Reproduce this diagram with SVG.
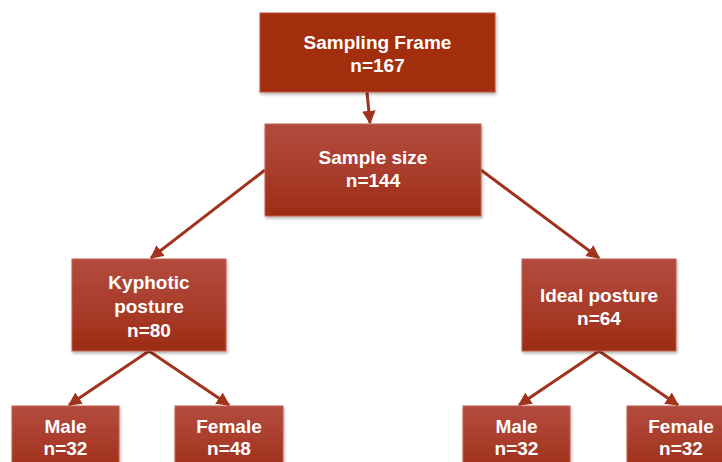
<svg xmlns="http://www.w3.org/2000/svg" width="722" height="462" viewBox="0 0 722 462">
<defs>
<linearGradient id="g" x1="0" y1="0" x2="0" y2="1">
<stop offset="0" stop-color="#B34B3F"/>
<stop offset="0.5" stop-color="#A93D2C"/>
<stop offset="1" stop-color="#9C2C14"/>
</linearGradient>
<marker id="ah" viewBox="0 0 10 10" refX="9" refY="5" markerWidth="4.5" markerHeight="4.5" orient="auto" markerUnits="strokeWidth">
<path d="M0,0 L10,5 L0,10 Z" fill="#A1331D"/>
</marker>
<filter id="sh" x="-10%" y="-10%" width="120%" height="130%">
<feDropShadow dx="1" dy="2" stdDeviation="1.5" flood-color="#000" flood-opacity="0.3"/>
</filter>
</defs>
<style>
.box{fill:url(#g);stroke:#C0604F;stroke-width:1;filter:url(#sh)}
.top{fill:#A32F10;stroke:#B8503A;stroke-width:1;filter:url(#sh)}
.t{font-family:"Liberation Sans",Arial,sans-serif;font-weight:bold;font-size:19px;fill:#FFFFFF;text-anchor:middle}
.c{stroke:#A1331D;stroke-width:3;fill:none;marker-end:url(#ah)}
</style>
<rect width="722" height="462" fill="#FFFFFF"/>
<g id="connectors">
<line class="c" x1="367" y1="92" x2="370" y2="123"/>
<line class="c" x1="265" y1="170" x2="151" y2="258"/>
<line class="c" x1="481" y1="170" x2="599" y2="258"/>
<line class="c" x1="149" y1="351" x2="69" y2="405"/>
<line class="c" x1="149" y1="351" x2="229" y2="405"/>
<line class="c" x1="599" y1="351" x2="519" y2="405"/>
<line class="c" x1="599" y1="351" x2="678" y2="405"/>
</g>
<g id="sampling-frame">
<rect class="top" x="260" y="13" width="235" height="79"/>
<text class="t" x="377.5" y="49">Sampling Frame</text>
<text class="t" x="377.5" y="72">n=167</text>
</g>
<g id="sample-size">
<rect class="box" x="265" y="124" width="216" height="92"/>
<text class="t" x="373" y="164">Sample size</text>
<text class="t" x="373" y="187">n=144</text>
</g>
<g id="kyphotic">
<rect class="box" x="72" y="259" width="154" height="92"/>
<text class="t" x="149" y="289">Kyphotic</text>
<text class="t" x="149" y="313">posture</text>
<text class="t" x="149" y="337">n=80</text>
</g>
<g id="ideal">
<rect class="box" x="522" y="259" width="154" height="92"/>
<text class="t" x="599" y="302">Ideal posture</text>
<text class="t" x="599" y="325">n=64</text>
</g>
<g id="male-k">
<rect class="box" x="12" y="406" width="107" height="70"/>
<text class="t" x="65.5" y="433">Male</text>
<text class="t" x="65.5" y="455">n=32</text>
</g>
<g id="female-k">
<rect class="box" x="175" y="406" width="108" height="70"/>
<text class="t" x="229" y="433">Female</text>
<text class="t" x="229" y="455">n=48</text>
</g>
<g id="male-i">
<rect class="box" x="463" y="406" width="107" height="70"/>
<text class="t" x="516.5" y="433">Male</text>
<text class="t" x="516.5" y="455">n=32</text>
</g>
<g id="female-i">
<rect class="box" x="627" y="406" width="108" height="70"/>
<text class="t" x="681" y="433">Female</text>
<text class="t" x="681" y="455">n=32</text>
</g>
</svg>
